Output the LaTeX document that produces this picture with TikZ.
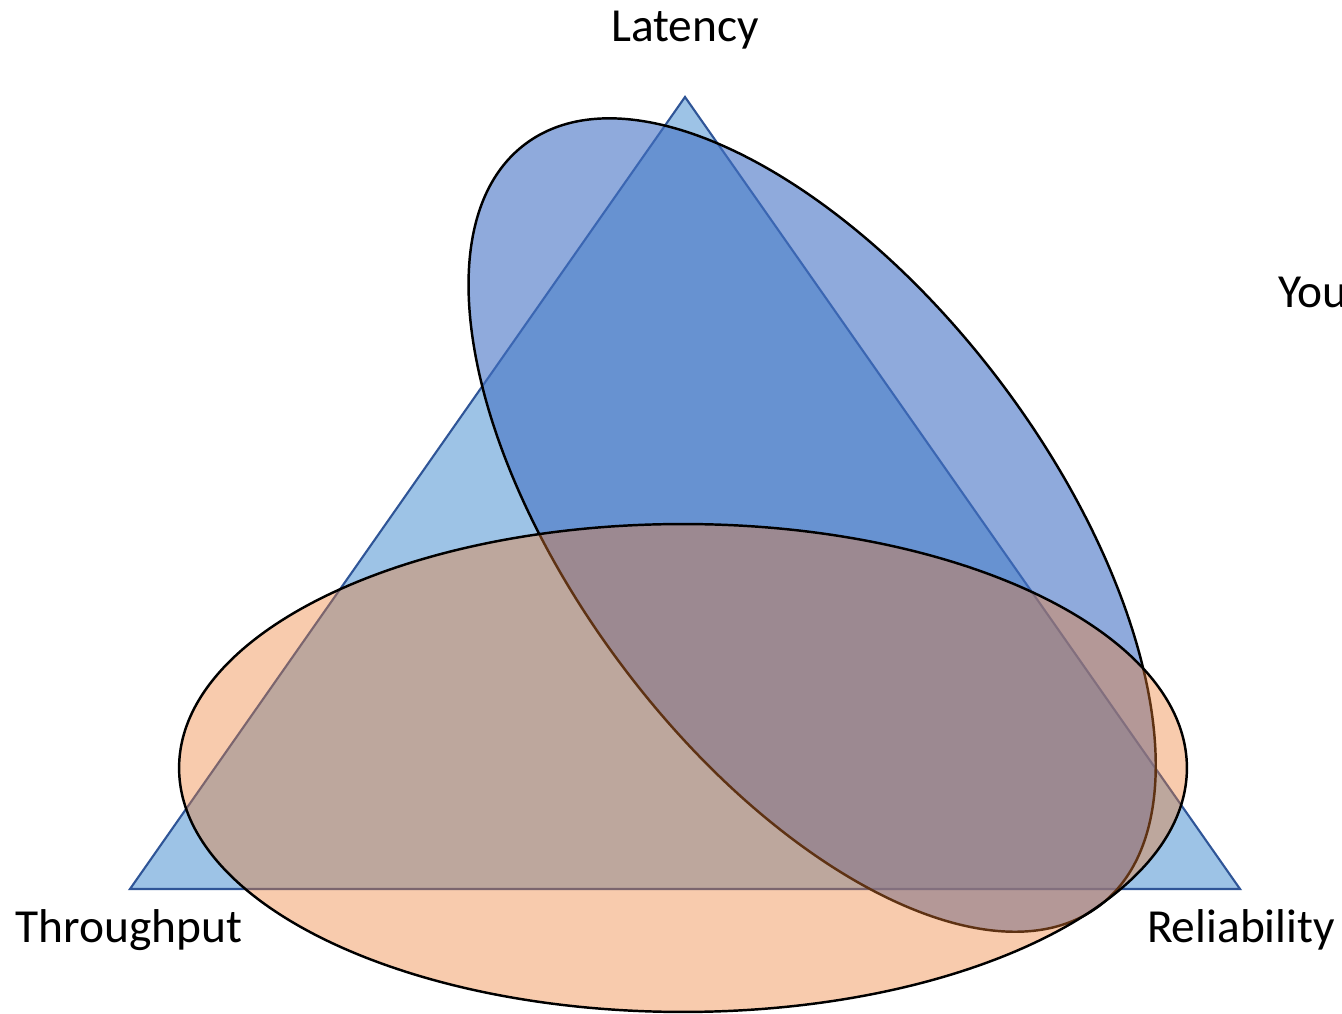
\documentclass[tikz,border=0pt]{standalone}
\usepackage{fontspec}
\setmainfont{Carlito}
\usetikzlibrary{positioning}
\definecolor{trifill}{HTML}{9DC3E6}
\definecolor{triedge}{HTML}{2F5597}
\definecolor{latfill}{HTML}{4472C4}
\definecolor{thrfill}{HTML}{ED7D31}
\begin{document}
\begin{tikzpicture}[x=0.02cm,y=0.02cm,
    tri/.style={draw=triedge,fill=trifill,line width=1.2pt,line join=miter},
    lat/.style={draw=black,line width=1.4pt,fill=latfill,fill opacity=0.6},
    thr/.style={draw=black,line width=1.4pt,fill=thrfill,fill opacity=0.4},
    lbl/.style={font=\fontsize{27}{32}\selectfont,inner sep=0pt,anchor=base}]
    \clip (0,0) rectangle (1342,1014);
    \coordinate (apex) at (685,917);
    \coordinate (left) at (130,125);
    \coordinate (right) at (1240,125);
    \coordinate (latc) at (812,489);
    \coordinate (thrc) at (683,246);
    \draw[tri] (apex) -- (left) -- (right) -- cycle;
    \draw[lat,rotate around={-53:(latc)}] (latc) ellipse [x radius=9.54cm, y radius=4.73cm];
    \draw[thr] (thrc) ellipse [x radius=10.08cm, y radius=4.88cm];
    \node (latency) [lbl] at (685,972) {Latency};
    \node (throughput) [lbl] at (129,71) {Throughput};
    \node (reliability) [lbl] at (1241,71) {Reliability};
    \node (you) [lbl,anchor=base west] at (1278,706) {You};
\end{tikzpicture}
\end{document}
